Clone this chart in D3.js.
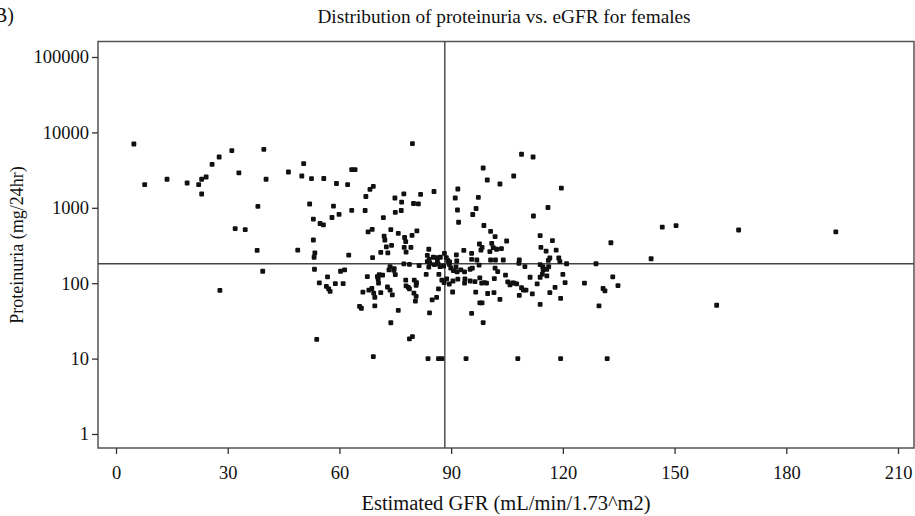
<!DOCTYPE html>
<html lang="en">
  <head>
    <meta charset="UTF-8" />
    <title>Distribution of proteinuria vs. eGFR for females</title>
    <script src="https://d3js.org/d3.v7.min.js"></script>
    <style>
      body { margin: 0; background: #fff; }
      svg text { font-family: "Liberation Serif", "DejaVu Serif", serif; fill: #111; }
    </style>
  </head>
  <body>
    <div id="chart"></div>

    <script>
      // eGFR (mL/min/1.73m2) of each patient
      const egfr = [
        4.8, 7.7, 13.7, 19.1, 22.2, 23.0, 23.0, 24.2, 25.8, 27.7, 31.1, 33.0, 38.1, 32.0, 34.7, 37.9,
        39.4, 39.7, 40.3, 46.3, 27.9, 48.8, 50.4, 49.9, 52.5, 55.8, 59.2, 62.2, 63.3, 64.2, 52.0, 58.4,
        53.0, 54.8, 55.7, 58.0, 59.9, 63.3, 67.1, 68.2, 69.1, 66.9, 71.8, 74.9, 77.3, 76.7, 75.0, 76.6,
        79.9, 81.2, 81.8, 85.4, 79.6, 53.0, 53.4, 53.2, 62.5, 67.7, 68.8, 68.9, 72.0, 72.2, 73.8, 72.6,
        74.0, 75.8, 77.5, 77.8, 79.5, 80.8, 77.4, 77.9, 79.2, 71.1, 73.0, 84.0, 83.6, 84.1, 85.2, 77.3,
        78.8, 81.4, 83.6, 84.0, 84.3, 86.1, 86.3, 85.5, 86.5, 87.0, 73.6, 74.7, 73.3, 74.6, 53.3, 61.4,
        60.3, 67.5, 70.7, 70.2, 71.6, 75.0, 77.8, 80.1, 80.7, 80.6, 77.9, 78.5, 78.8, 83.3, 86.7, 56.8,
        54.6, 56.5, 57.1, 57.5, 58.9, 61.0, 70.4, 70.5, 67.9, 68.7, 69.2, 69.5, 71.1, 72.9, 73.6, 74.2,
        66.3, 80.0, 80.6, 80.4, 84.9, 86.1, 86.6, 65.4, 65.9, 69.5, 75.8, 84.2, 73.8, 53.9, 78.8, 79.6,
        69.1, 83.8, 86.6, 87.5,
        91.8, 91.1, 91.7, 92.0, 88.2, 88.7, 87.1, 89.1, 89.6, 91.4, 91.5, 88.0, 89.5, 89.9, 91.3, 90.6,
        91.6, 87.5, 88.1, 88.8, 89.5, 90.5, 91.8, 90.4,
        99.7, 103.1, 106.8, 98.6, 97.3, 96.7, 95.8, 116.0, 112.1, 119.6, 108.9, 112.0, 98.8, 100.6, 101.8, 104.9,
        97.6, 98.0, 98.3, 100.9, 101.3, 100.4, 102.2, 103.5, 93.4, 95.5, 113.9, 117.2, 114.1, 115.5, 118.2, 132.9,
        95.5, 96.9, 97.5, 100.6, 101.9, 104.0, 108.3, 108.2, 113.9, 114.6, 116.5, 116.1, 118.9, 119.2, 121.0, 128.9,
        109.8, 114.7, 115.7, 116.2, 92.6, 93.6, 95.1, 95.7, 101.8, 102.5, 93.7, 93.6, 95.1, 96.4, 97.7, 98.2,
        98.9, 99.5, 101.6, 104.6, 105.2, 105.8, 106.5, 106.9, 107.6, 108.9, 110.1, 111.2, 113.1, 113.9, 114.5, 115.7,
        120.0, 120.6, 117.9, 116.5, 125.8, 130.8, 131.3, 133.4, 134.8, 96.6, 99.8, 101.5, 103.1, 97.7, 98.3, 108.3,
        109.4, 111.8, 113.9, 119.4, 129.7, 95.5, 98.6, 94.0, 107.9, 119.4, 131.9,
        146.7, 150.4, 167.2, 193.3, 143.7, 161.3
      ];

      // proteinuria (mg/24hr), same order as egfr
      const proteinuria = [
        7020, 2025, 2390, 2133, 2025, 1525, 2390, 2563, 3776, 4720, 5720, 2897, 1047, 528, 512, 273,
        144, 5970, 2390, 2985, 80.5, 275, 3846, 2642, 2432, 2447, 2100, 2025, 3200, 3200, 1123, 1050,
        706, 619, 592, 744, 820, 927, 1413, 1750, 1918, 921, 739, 1349, 1534, 1187, 867, 921,
        1140, 1130, 1510, 1645, 7080, 374, 253, 221, 235, 478, 519, 219, 420, 374, 512, 304,
        318, 459, 404, 357, 432, 495, 299, 259, 299, 257, 252, 282, 234, 207, 221, 180,
        178, 171, 193, 163, 184, 218, 199, 176, 180, 166, 166, 156, 150, 148, 153, 150,
        144, 122, 130, 122, 128, 130, 110, 110, 102, 94, 92, 88, 84, 131, 131, 121,
        101, 91, 84, 78, 99, 99, 114, 100, 81, 85, 74, 65, 75, 89, 81, 70,
        76, 74, 67, 58, 60, 65, 84, 49.4, 46.5, 49.9, 43.5, 40.3, 29.9, 18.0, 18.3, 19.6,
        10.6, 10, 10, 10,
        1776, 1349, 935, 643, 248, 218, 221, 200, 191, 237, 197, 169, 178, 159, 164, 147,
        141, 110, 102, 114, 97.6, 107, 113, 76.4,
        2337, 2069, 2642, 3373, 1378, 979, 815, 1009, 778, 1820, 5130, 4720, 582, 488, 414, 363,
        331, 275, 299, 338, 296, 262, 282, 287, 273, 249, 427, 366, 299, 267, 275, 344,
        207, 203, 174, 203, 203, 203, 203, 184, 176, 166, 216, 201, 216, 193, 181, 181,
        166, 150, 153, 166, 150, 141, 153, 158, 158, 142, 114, 100, 107, 105, 118, 100,
        102, 100, 115, 128, 104, 95, 101, 100, 98, 87, 81, 120, 98, 120, 132, 125,
        131, 102, 88, 75, 100, 85, 79, 121, 93, 76, 73, 75, 61, 55, 55, 69,
        81, 72, 52.5, 63, 50, 39.9, 30, 10, 10, 10, 10,
        553, 579, 508, 478, 211, 51
      ];

      const xTicks = [0, 30, 60, 90, 120, 150, 180, 210];
      const yTicks = [1, 10, 100, 1000, 10000, 100000];

      // reference lines drawn through the cloud
      const refEgfr = 88.3;
      const refProteinuria = 181;

      const title = "Distribution of proteinuria vs. eGFR for females";
      const panelLabel = "B)";
      const xLabel = "Estimated GFR (mL/min/1.73^m2)";
      const yLabel = "Proteinuria (mg/24hr)";

      const W = 915, H = 516;
      // plot frame
      const frame = { left: 98, top: 41.5, right: 914, bottom: 448 };

      const svg = d3
        .select("#chart")
        .append("svg")
        .attr("width", W)
        .attr("height", H);

      const x = d3.scaleLinear().domain([0, 210]).range([116, 898]);
      const y = d3.scaleLog().domain([1, 100000]).range([434, 57]);

      // frame box
      svg
        .append("rect")
        .attr("x", frame.left)
        .attr("y", frame.top)
        .attr("width", frame.right - frame.left)
        .attr("height", frame.bottom - frame.top)
        .attr("fill", "none")
        .attr("stroke", "#555")
        .attr("stroke-width", 1.5);

      // X axis
      const gx = svg
        .append("g")
        .attr("transform", `translate(0,${frame.bottom})`)
        .call(d3.axisBottom(x).tickValues(xTicks).tickSize(6).tickPadding(12).tickFormat(d3.format("d")));
      gx.select(".domain").remove();

      // Y axis
      const gy = svg
        .append("g")
        .attr("transform", `translate(${frame.left},0)`)
        .call(d3.axisLeft(y).tickValues(yTicks).tickSize(6).tickPadding(3).tickFormat(d3.format("d")));
      gy.select(".domain").remove();

      svg.selectAll(".tick line").attr("stroke", "#333").attr("stroke-width", 1.3);
      svg
        .selectAll(".tick text")
        .attr("font-size", 18.5)
        .attr("font-family", "Liberation Serif, serif")
        .attr("fill", "#111");

      // reference lines
      svg
        .append("line")
        .attr("x1", x(refEgfr))
        .attr("x2", x(refEgfr))
        .attr("y1", frame.top)
        .attr("y2", frame.bottom)
        .attr("stroke", "#444")
        .attr("stroke-width", 1.4);
      svg
        .append("line")
        .attr("x1", frame.left)
        .attr("x2", frame.right)
        .attr("y1", y(refProteinuria))
        .attr("y2", y(refProteinuria))
        .attr("stroke", "#444")
        .attr("stroke-width", 1.4);

      // the points
      const data = egfr.map((e, i) => ({ egfr: e, prot: proteinuria[i] }));
      const s = 4.8;
      svg
        .append("g")
        .selectAll("rect")
        .data(data)
        .join("rect")
        .attr("x", (d) => x(d.egfr) - s / 2)
        .attr("y", (d) => y(d.prot) - s / 2)
        .attr("width", s)
        .attr("height", s)
        .attr("rx", 1)
        .attr("fill", "#111");

      // texts
      svg
        .append("text")
        .attr("x", 504)
        .attr("y", 23)
        .attr("text-anchor", "middle")
        .attr("font-size", 19.3)
        .text(title);

      svg
        .append("text")
        .attr("x", -6)
        .attr("y", 22)
        .attr("font-size", 20)
        .text(panelLabel);

      svg
        .append("text")
        .attr("x", 506)
        .attr("y", 510)
        .attr("text-anchor", "middle")
        .attr("font-size", 20.5)
        .text(xLabel);

      svg
        .append("text")
        .attr("transform", "translate(23,245) rotate(-90)")
        .attr("text-anchor", "middle")
        .attr("font-size", 18)
        .text(yLabel);
    </script>
  </body>
</html>
